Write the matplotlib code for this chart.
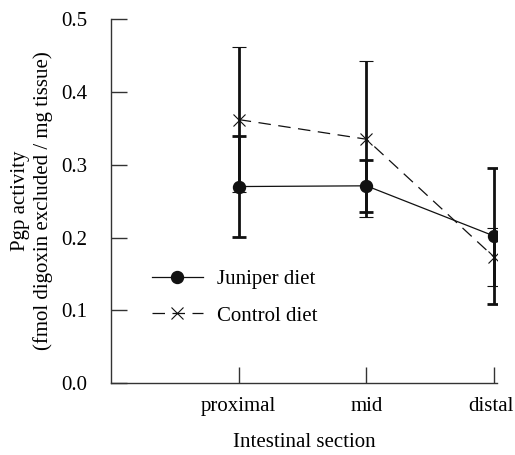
import matplotlib
matplotlib.use("Agg")
import matplotlib.pyplot as plt
from matplotlib.transforms import ScaledTranslation

sections = ["proximal", "mid", "distal"]
juniper = [0.270, 0.271, 0.202]
juniper_err = [0.069, 0.036, 0.093]
control = [0.362, 0.335, 0.173]
control_err = [0.100, 0.107, 0.040]
yticks = [0.0, 0.1, 0.2, 0.3, 0.4, 0.5]

plt.rcParams['font.family'] = ['Liberation Serif', 'DejaVu Serif']
plt.rcParams['font.size'] = 15

fig = plt.figure(figsize=(5.15, 4.55), dpi=100)
ax = fig.add_axes([0.2155, 0.158, 0.749, 0.800])

x = [1, 2, 3]
ax.errorbar(x, juniper, yerr=juniper_err, fmt='-', marker='o', color='#111111',
            lw=0.9, ms=8.6, elinewidth=2.0, capsize=4.8, capthick=2.0,
            label='Juniper diet')
ax.errorbar(x, control, yerr=control_err, fmt='--', marker='x', color='#111111',
            lw=0.9, ms=8, mew=0.8, elinewidth=2.0, capsize=4.8, capthick=2.0,
            dashes=(10, 6), label='Control diet')

ax.set_xlim(0, 3.02)
ax.set_ylim(0, 0.5)
ax.set_xticks(x)
ax.set_xticklabels(sections)
ax.set_yticks(yticks)
ax.set_yticklabels([f"{v:.1f}" for v in yticks])
ax.tick_params(direction='in', length=11.5, width=1.0, color='#333333')
ax.tick_params(axis='x', pad=10)
ax.tick_params(axis='y', pad=17)
for s in ['top', 'right']:
    ax.spines[s].set_visible(False)
for s in ['left', 'bottom']:
    ax.spines[s].set_color('#333333')
    ax.spines[s].set_linewidth(1.0)

# nudge last tick label slightly left so it stays inside the figure
lbl = ax.get_xticklabels()[-1]
lbl.set_transform(lbl.get_transform() + ScaledTranslation(-3 / 100, 0, fig.dpi_scale_trans))

ax.set_xlabel("Intestinal section", labelpad=12)
ax.set_ylabel("Pgp activity\n(fmol digoxin excluded / mg tissue)", labelpad=6)

h, l = ax.get_legend_handles_labels()
h = [hh[0] for hh in h]
ax.legend(h, l, loc='upper left', bbox_to_anchor=(0.106, 0.311), frameon=False,
          borderaxespad=0, borderpad=0,
          handlelength=2.45, labelspacing=0.8, handletextpad=0.67)

fig.savefig("out.png", dpi=100)
